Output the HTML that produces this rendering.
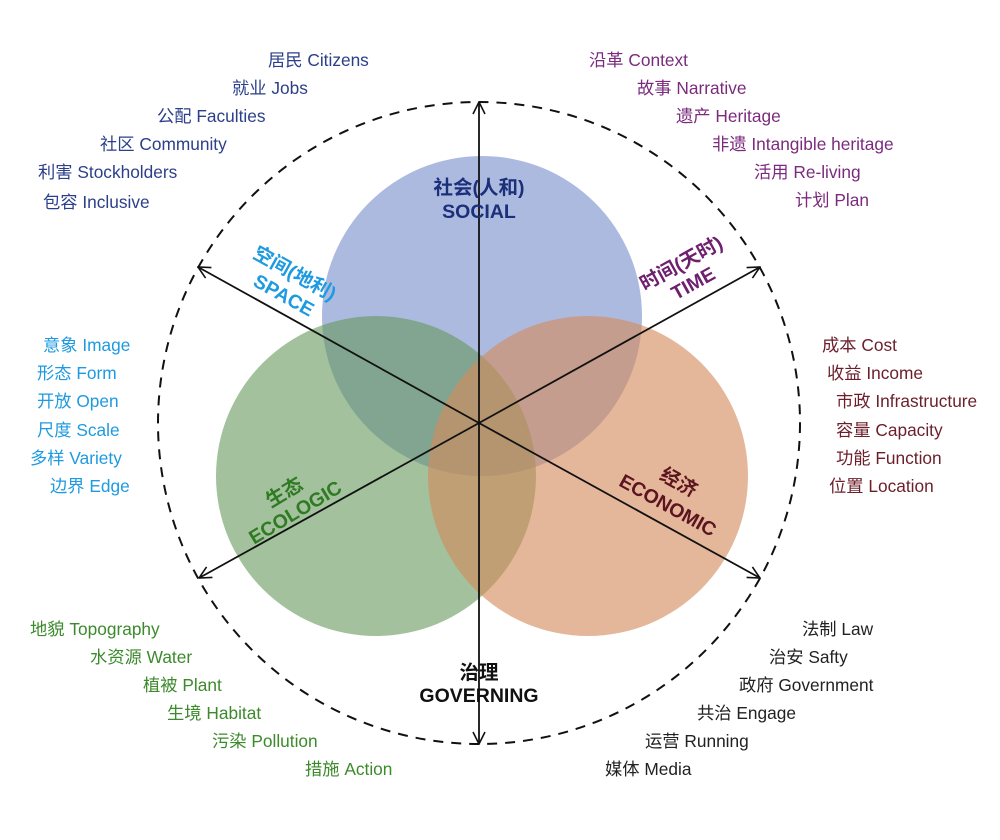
<!DOCTYPE html>
<html><head><meta charset="utf-8"><style>
html,body{margin:0;padding:0;background:#fff;}
svg{display:block;}
text{font-family:"Liberation Sans","Noto Sans CJK SC",sans-serif;}
.l{font-size:17.3px;}
.b{font-size:19.5px;font-weight:bold;}
</style></head><body>
<svg width="1000" height="840" viewBox="0 0 1000 840">
<defs>
<marker id="ar" viewBox="0 0 14 14" refX="13" refY="7" markerWidth="14" markerHeight="14" markerUnits="userSpaceOnUse" orient="auto">
<path d="M1,1 L13,7 L1,13" fill="none" stroke="#111" stroke-width="1.6"/>
</marker>
</defs>
<circle cx="479" cy="423" r="321" fill="none" stroke="#111" stroke-width="2" stroke-dasharray="10,8"/>
<circle cx="482" cy="316" r="160" fill="rgb(118,140,204)" fill-opacity="0.6"/>
<circle cx="376" cy="476" r="160" fill="rgb(100,152,90)" fill-opacity="0.6"/>
<circle cx="588" cy="476" r="160" fill="rgb(212,138,92)" fill-opacity="0.62"/>
<g stroke="#111" stroke-width="1.8" marker-end="url(#ar)">
<line x1="479" y1="423" x2="479" y2="102"/>
<line x1="479" y1="423" x2="479" y2="744"/>
<line x1="479" y1="423" x2="198" y2="267"/>
<line x1="479" y1="423" x2="760" y2="267"/>
<line x1="479" y1="423" x2="199" y2="578"/>
<line x1="479" y1="423" x2="760" y2="578"/>
</g>
<g class="b" text-anchor="middle">
<text x="479" y="194" fill="#1c2f7a">社会(人和)</text>
<text x="479" y="218" fill="#1c2f7a">SOCIAL</text>
<text x="479" y="679" fill="#111">治理</text>
<text x="479" y="702" fill="#111">GOVERNING</text>
<text transform="translate(295,273) rotate(29)" y="7" fill="#1e9ae0">空间(地利)</text>
<text transform="translate(284,295) rotate(29)" y="7" fill="#1e9ae0">SPACE</text>
<text transform="translate(681,263) rotate(-29)" y="7" fill="#6e1f6e">时间(天时)</text>
<text transform="translate(693,283) rotate(-29)" y="7" fill="#6e1f6e">TIME</text>
<text transform="translate(284,492) rotate(-31)" y="7" fill="#2f7a22">生态</text>
<text transform="translate(295,512) rotate(-31)" y="7" fill="#2f7a22">ECOLOGIC</text>
<text transform="translate(679,482) rotate(29)" y="7" fill="#5c1420">经济</text>
<text transform="translate(668,505) rotate(29)" y="7" fill="#5c1420">ECONOMIC</text>
</g>
<g class="l" fill="#2b3f8a">
<text x="268" y="66">居民 Citizens</text>
<text x="232" y="94">就业 Jobs</text>
<text x="157" y="122">公配 Faculties</text>
<text x="100" y="150">社区 Community</text>
<text x="38" y="178">利害 Stockholders</text>
<text x="43" y="208">包容 Inclusive</text>
</g>
<g class="l" fill="#7b2b7d">
<text x="589" y="66">沿革 Context</text>
<text x="637" y="94">故事 Narrative</text>
<text x="676" y="122">遗产 Heritage</text>
<text x="712" y="150">非遗 Intangible heritage</text>
<text x="754" y="178">活用 Re-living</text>
<text x="795" y="206">计划 Plan</text>
</g>
<g class="l" fill="#1e9ae0">
<text x="43" y="351">意象 Image</text>
<text x="37" y="379">形态 Form</text>
<text x="37" y="407">开放 Open</text>
<text x="37" y="436">尺度 Scale</text>
<text x="30" y="464">多样 Variety</text>
<text x="50" y="492">边界 Edge</text>
</g>
<g class="l" fill="#6b1f2b">
<text x="822" y="351">成本 Cost</text>
<text x="827" y="379">收益 Income</text>
<text x="836" y="407">市政 Infrastructure</text>
<text x="836" y="436">容量 Capacity</text>
<text x="836" y="464">功能 Function</text>
<text x="829" y="492">位置 Location</text>
</g>
<g class="l" fill="#3c8a2c">
<text x="30" y="635">地貌 Topography</text>
<text x="90" y="663">水资源 Water</text>
<text x="143" y="691">植被 Plant</text>
<text x="167" y="719">生境 Habitat</text>
<text x="212" y="747">污染 Pollution</text>
<text x="305" y="775">措施 Action</text>
</g>
<g class="l" fill="#222">
<text x="802" y="635">法制 Law</text>
<text x="769" y="663">治安 Safty</text>
<text x="739" y="691">政府 Government</text>
<text x="697" y="719">共治 Engage</text>
<text x="645" y="747">运营 Running</text>
<text x="605" y="775">媒体 Media</text>
</g>
</svg>
</body></html>
